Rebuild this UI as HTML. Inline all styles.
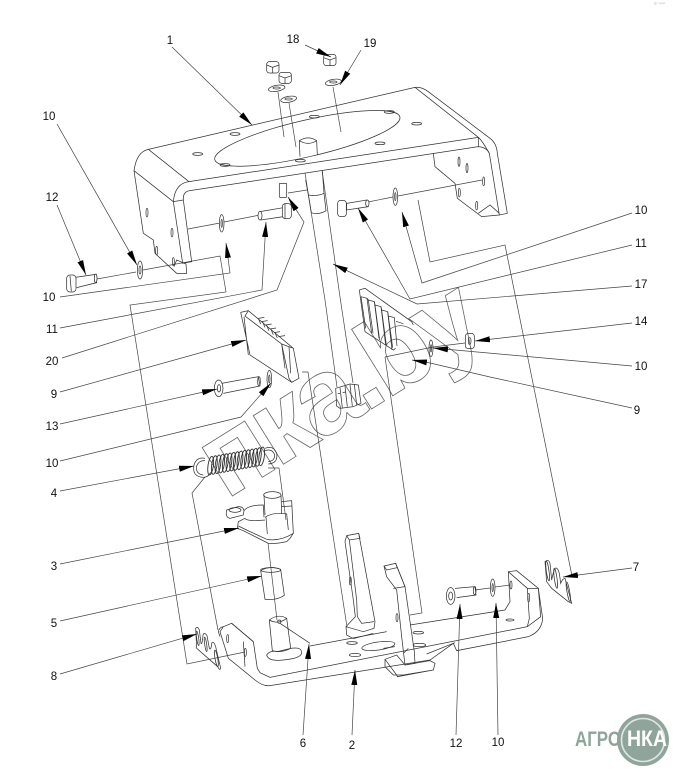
<!DOCTYPE html>
<html><head><meta charset="utf-8"><style>
html,body{margin:0;padding:0;background:#fff}
svg{display:block}
text{font-family:"Liberation Sans",sans-serif}
.l{font-size:11.5px;fill:#111;text-anchor:middle}
.z path,.z ellipse,.z rect,.z polyline,.z line{fill:none;stroke:#333;stroke-width:2.2}
.f path,.f ellipse,.f rect{fill:#fff}
.a polyline{fill:none;stroke:#444;stroke-width:.7;marker-end:url(#m)}
.x path{fill:none;stroke:#444;stroke-width:.7}
</style></head><body>
<svg xmlns="http://www.w3.org/2000/svg" width="690" height="783" viewBox="0 0 690 783">
<defs><marker id="m" markerUnits="userSpaceOnUse" markerWidth="17" markerHeight="8" refX="15" refY="3.5" orient="auto"><path d="M0,0.5 L15,3.5 L0,6.5 Z" fill="#000"/></marker></defs>

<!-- watermark -->
<text x="226" y="500" transform="rotate(-32 226 500)" font-size="108" font-weight="bold" letter-spacing="-5" fill="none" stroke="#666" stroke-width=".8">пка.by</text>

<!-- axis lines -->
<g class="x">
<path d="M305,173L325,300L337,387M322,170L340,297L353,383"/>
<path d="M143,270L220,256L226,292L130,305L187,664L245,652"/>
<path d="M97,279L136,272"/>
<path d="M418,200L430,262L505,245L572,576"/>
<path d="M302,372L308,372L347,627"/>
<path d="M385,357L433,347L465,343M385,357L422,613L410,615"/>
<path d="M205,477L192,493L218,630M268,468L279,468L286,520M268,543L277,620"/>
<path d="M188,229L220,223M224,222L260,215M288,193L307,190M368,202L393,197M398,196L482,180"/>
<path d="M278,92L284,137M289,103L296,147M333,87L341,132"/>
<path d="M475,590L490,588M495,587L510,585"/>
</g>

<!-- top bracket -->
<g class="z" transform="translate(120,40) scale(.33333)">
<path d="M85,328L885,142Q905,140 925,155L1110,295Q1130,310 1132,340L1162,520L1138,525L1108,340Q1100,322 1075,320L210,452Q188,455 190,480L215,665L188,670L160,485Q165,430 207,425L1075,292"/>
<path d="M85,328Q50,335 42,392L70,580L100,600L105,640L170,700L200,700L198,672L170,660L162,680"/>
<path d="M85,328L207,425M42,392L160,485M160,485L190,480M885,142L1075,292Q1085,300 1108,340M1075,292L1075,320"/>
<path d="M940,340L945,380L1005,430L1012,475L1085,530L1138,525M1075,520L1110,495L1138,520"/>
<ellipse cx="562" cy="295" rx="285" ry="55" transform="rotate(-13 562 295)"/>
<ellipse cx="233" cy="342" rx="15" ry="4"/><ellipse cx="345" cy="282" rx="15" ry="4"/><ellipse cx="583" cy="230" rx="15" ry="4"/><ellipse cx="808" cy="216" rx="15" ry="4"/><ellipse cx="890" cy="251" rx="15" ry="4"/><ellipse cx="780" cy="310" rx="15" ry="4"/><ellipse cx="541" cy="362" rx="15" ry="4"/><ellipse cx="315" cy="375" rx="15" ry="4"/>
<ellipse cx="81" cy="518" rx="3" ry="13"/><ellipse cx="156" cy="578" rx="3" ry="13"/><ellipse cx="110" cy="632" rx="3" ry="13"/><ellipse cx="1017" cy="365" rx="3" ry="14"/><ellipse cx="1041" cy="384" rx="3" ry="14"/><ellipse cx="1091" cy="424" rx="3" ry="13"/><ellipse cx="1018" cy="458" rx="3" ry="13"/><ellipse cx="1070" cy="497" rx="3" ry="13"/><ellipse cx="160" cy="665" rx="3" ry="12"/>
<path d="M540,350L538,302Q565,285 590,302L592,345M538,302Q565,318 590,302"/>
<!-- nuts and washers -->
<g class="f"><rect x="440" y="65" width="37" height="34" rx="8"/><rect x="477" y="97" width="37" height="33" rx="8"/><rect x="611" y="43" width="37" height="34" rx="8"/>
<ellipse cx="470" cy="145" rx="25" ry="9" transform="rotate(-10 470 145)"/><ellipse cx="506" cy="178" rx="24" ry="9" transform="rotate(-10 506 178)"/><ellipse cx="640" cy="127" rx="24" ry="9" transform="rotate(-10 640 127)"/></g>
<ellipse cx="470" cy="144" rx="11" ry="3"/><ellipse cx="506" cy="177" rx="11" ry="3"/><ellipse cx="640" cy="126" rx="11" ry="3"/>
<path d="M440,75L458,82L477,75M458,82L458,99M477,107L495,114L514,107M495,114L495,130M611,53L630,60L648,53M630,60L630,77"/>
<!-- tab, bolts, washers -->
<g class="f"><rect x="478" y="430" width="22" height="42" rx="2"/>
<path d="M420,515L490,503L490,530L423,540Z"/><ellipse cx="420" cy="527" rx="6" ry="13"/><rect x="487" y="491" width="27" height="45" rx="9"/>
<path d="M680,490L740,480L745,500L680,510Z"/><ellipse cx="742" cy="490" rx="5" ry="10"/><rect x="653" y="481" width="26" height="49" rx="9"/>
<ellipse cx="305" cy="550" rx="7" ry="26"/><ellipse cx="826" cy="470" rx="7" ry="26"/><ellipse cx="60" cy="690" rx="8" ry="27"/></g>
<ellipse cx="305" cy="550" rx="2" ry="12"/><ellipse cx="826" cy="470" rx="2" ry="12"/><ellipse cx="60" cy="690" rx="3" ry="12"/>
<path d="M495,491L495,536"/>
<!-- collar -->
<path d="M557,420L565,465Q590,470 612,460L607,392M565,465L574,518Q595,526 618,512L612,460"/>
</g>

<!-- bolt 12 -->
<g class="z f" transform="translate(50,240) scale(.33333)">
<path d="M75,112L138,103L140,128L80,143"/><ellipse cx="137" cy="115" rx="4" ry="13"/>
<rect x="50" y="105" width="28" height="51" rx="10"/><path d="M60,108L64,154"/>
</g>

<!-- middle parts -->
<g class="z" transform="translate(170,280) scale(.33333)">
<path d="M212,97L235,92L370,205L387,295L365,307L240,225L212,97M222,110L235,225M235,92L225,108L335,192L357,295L365,307M335,192L370,205"/>
<path d="M335,192L345,265M357,200L362,280"/>
<path d="M265,115L283,112M275,125L293,122M287,135L305,132M300,147L318,144M312,158L330,155M325,170L345,167M265,115L272,132M278,126L285,142M290,136L297,152M303,148L310,164M315,158L322,174"/>
<!-- gear -->
<path d="M497,325L540,312L565,315L573,370L550,380L510,385L500,378Z"/>
<path d="M510,323L517,383M525,318L532,380M540,314L547,378M553,313L560,375M503,340L510,340M518,338L526,336"/>
<!-- bolt 13 -->
<path d="M155,310L265,290L270,318L160,340"/><ellipse cx="267" cy="304" rx="4" ry="14"/><ellipse cx="146" cy="325" rx="13" ry="25"/><ellipse cx="147" cy="325" rx="5" ry="11"/>
<ellipse cx="298" cy="297" rx="7" ry="26"/><ellipse cx="298" cy="297" rx="2" ry="12"/>
</g>

<!-- right comb plate -->
<g class="z" transform="translate(350,280) scale(.33333)">
<path d="M28,30L45,25L185,125L190,135M28,30L45,155L130,210L137,205"/>
<path d="M33,50l18,5l14,105M33,50l14,95M55,60l18,5l14,110M55,60l14,100M75,75l18,5l14,115M75,75l14,105M95,90l18,5l13,115M95,90l14,105M115,108l18,5l8,85M115,108l13,95M138,124l22,7"/>
<path d="M51,55l4,5M73,65l2,10M93,80l2,10M113,95l2,13"/>
<ellipse cx="243" cy="205" rx="6" ry="25"/><ellipse cx="243" cy="205" rx="2" ry="11"/>
<rect x="346" y="160" width="27" height="46" rx="9"/><ellipse cx="359" cy="183" rx="4" ry="10"/>
</g>

<!-- spring and cam -->
<g class="z" transform="translate(180,440) scale(.33333)">
<g style="stroke-width:2.8">
<ellipse cx="92" cy="77" rx="8" ry="28" transform="rotate(8 92 77)" style="stroke-width:2.8"/><ellipse cx="103" cy="75" rx="8" ry="28" transform="rotate(8 103 75)" style="stroke-width:2.8"/><ellipse cx="114" cy="73" rx="8" ry="28" transform="rotate(8 114 73)" style="stroke-width:2.8"/><ellipse cx="125" cy="71" rx="8" ry="28" transform="rotate(8 125 71)" style="stroke-width:2.8"/><ellipse cx="136" cy="69" rx="8" ry="28" transform="rotate(8 136 69)" style="stroke-width:2.8"/><ellipse cx="147" cy="67" rx="8" ry="28" transform="rotate(8 147 67)" style="stroke-width:2.8"/><ellipse cx="158" cy="65" rx="8" ry="28" transform="rotate(8 158 65)" style="stroke-width:2.8"/><ellipse cx="169" cy="63" rx="8" ry="28" transform="rotate(8 169 63)" style="stroke-width:2.8"/><ellipse cx="180" cy="61" rx="8" ry="28" transform="rotate(8 180 61)" style="stroke-width:2.8"/><ellipse cx="191" cy="59" rx="8" ry="28" transform="rotate(8 191 59)" style="stroke-width:2.8"/><ellipse cx="202" cy="57" rx="8" ry="28" transform="rotate(8 202 57)" style="stroke-width:2.8"/><ellipse cx="213" cy="55" rx="8" ry="28" transform="rotate(8 213 55)" style="stroke-width:2.8"/><ellipse cx="224" cy="53" rx="8" ry="28" transform="rotate(8 224 53)" style="stroke-width:2.8"/><ellipse cx="235" cy="51" rx="8" ry="28" transform="rotate(8 235 51)" style="stroke-width:2.8"/><ellipse cx="245" cy="49" rx="8" ry="28" transform="rotate(8 245 49)" style="stroke-width:2.8"/>
</g>
<path d="M75,55Q50,50 42,75Q35,110 70,112Q85,112 92,97M75,62Q57,60 50,78Q46,102 70,105"/>
<path d="M255,25Q280,15 290,40Q295,70 265,72M255,32Q275,25 283,42Q287,62 265,65"/>
<!-- cam -->
<path d="M140,210L175,200Q190,200 192,212L190,225L150,235Q135,232 140,210Z"/><ellipse cx="165" cy="210" rx="18" ry="7"/>
<path d="M192,212Q205,195 250,195L252,232M195,235Q200,245 255,240"/>
<path d="M252,165L255,225M303,165L305,222"/><ellipse cx="277" cy="165" rx="26" ry="10"/>
<path d="M255,232Q280,215 320,222L325,270M258,232L262,282"/>
<path d="M305,185L335,182L340,280L330,295L320,305Q290,312 265,310L190,272L172,265L175,245L195,235"/>
<path d="M175,258L200,270L260,298Q300,305 340,280M305,200L335,198"/>
</g>

<!-- lower parts -->
<g class="z" transform="translate(170,520) scale(.33333)">
<path d="M160,320L185,310L250,365L262,445L270,458L300,472L1072,320L1112,290L1105,205L1040,152L1015,155L1020,245L1005,270L720,315"/>
<path d="M160,320L150,335L175,415L255,480Q280,500 300,497L780,420L850,370L860,392L1075,350Q1115,335 1118,295L1105,205M1015,155L1072,205L1105,205M1072,205L1078,295L1072,320"/>
<ellipse cx="173" cy="356" rx="3" ry="12"/><ellipse cx="226" cy="397" rx="3" ry="12"/><ellipse cx="1076" cy="233" rx="3" ry="13"/><ellipse cx="1023" cy="195" rx="3" ry="12"/><ellipse cx="1020" cy="300" rx="12" ry="3"/>
<path d="M220,365L225,440M250,365L185,310"/>
<path d="M160,320Q148,322 145,335L150,350"/>
<!-- column 1 -->
<path d="M530,47L566,40L615,305L612,325L580,335L528,320L556,290L550,240L525,65Z"/>
<path d="M530,47L538,60L570,55L566,40M538,60L560,240L562,290L575,310L612,305"/>
<ellipse cx="541" cy="183" rx="3" ry="12"/>
<path d="M528,320L530,345L550,356L610,340"/>
<!-- column 2 -->
<path class="f" d="M642,138L677,130L705,200L733,395L735,430L705,435L695,350L680,210L650,170Z"/>
<path d="M642,138L650,150L682,143L677,130M682,143L705,200M670,205L705,200M715,385L700,400"/>
<ellipse cx="681" cy="293" rx="3" ry="12"/>
<path d="M645,418L680,405L705,435L780,422L795,430L790,450L700,465L670,465L645,440ZM645,418L680,465M680,465L682,470L790,450"/>
<!-- holes -->
<ellipse cx="546" cy="369" rx="16" ry="4"/><ellipse cx="555" cy="405" rx="17" ry="5"/><ellipse cx="745" cy="338" rx="16" ry="4"/><ellipse cx="748" cy="375" rx="19" ry="5"/>
<ellipse cx="625" cy="378" rx="50" ry="12" transform="rotate(-8 625 378)"/>
<path d="M640,385L675,380M770,402L855,368M420,378L650,335"/>
<!-- pin and base -->
<path d="M298,300Q325,280 350,295L362,385Q335,400 307,392Z"/>
<path d="M298,300Q325,315 350,295"/>
<ellipse cx="328" cy="305" rx="5" ry="5"/>
<path d="M290,405Q300,390 322,395L362,385Q395,380 395,398Q395,415 340,420Q295,425 290,405Z"/>
<path d="M330,310L420,370"/>
<!-- sleeve 5 -->
<path d="M272,152Q300,135 332,148L343,226Q320,242 285,238Z"/><ellipse cx="302" cy="150" rx="30" ry="7"/>
<!-- bolt 12 lower, washer -->
<path d="M855,205L915,200L918,225L860,233"/><ellipse cx="914" cy="212" rx="4" ry="12"/><ellipse cx="842" cy="228" rx="13" ry="25"/><ellipse cx="842" cy="228" rx="6" ry="12"/>
<ellipse cx="968" cy="203" rx="7" ry="26"/><ellipse cx="968" cy="203" rx="2" ry="12"/>
</g>

<!-- gasket left -->
<g class="z" transform="translate(175,615) scale(.33333)">
<path d="M62,40Q68,32 73,45L78,85Q82,90 84,60Q88,50 96,62L103,100Q108,108 110,85Q115,75 122,95L137,160Q135,168 128,155L65,100Z"/>
<ellipse cx="68" cy="70" rx="3" ry="22" transform="rotate(-8 68 70)"/><ellipse cx="92" cy="88" rx="3" ry="22" transform="rotate(-8 92 88)"/><ellipse cx="124" cy="130" rx="4" ry="25" transform="rotate(-10 124 130)"/>
</g>
<!-- gasket right -->
<g class="z" transform="translate(500,550) scale(.33333)">
<path d="M135,35Q145,25 150,40L155,90Q160,65 165,55Q172,50 178,70L182,100Q188,85 195,85L215,160L205,155L155,115L140,95Z"/>
<ellipse cx="143" cy="63" rx="4" ry="30" transform="rotate(-8 143 63)"/><ellipse cx="167" cy="85" rx="4" ry="30" transform="rotate(-8 167 85)"/><ellipse cx="205" cy="125" rx="4" ry="30" transform="rotate(-10 205 125)"/>
</g>

<!-- leaders -->
<g class="a">
<polyline points="172,47 252,125"/>
<polyline points="305,45 331,57"/>
<polyline points="361,50 340,85"/>
<polyline points="57,124 137,265"/>
<polyline points="57,205 86,275"/>
<polyline points="60,297 230,273 226,243"/>
<polyline points="60,328 262,290 266,222"/>
<polyline points="62,358 277,290 304,222 288,197"/>
<polyline points="60,392 246,340"/>
<polyline points="60,424 217,389"/>
<polyline points="60,461 241,417 271,383"/>
<polyline points="60,491 194,466"/>
<polyline points="60,564 239,528"/>
<polyline points="60,621 262,576"/>
<polyline points="60,674 197,634"/>
<polyline points="303,735 309,644"/>
<polyline points="352,735 355,670"/>
<polyline points="456,735 460,604"/>
<polyline points="498,735 496,603"/>
<polyline points="632,568 563,577"/>
<polyline points="632,213 422,283 402,212"/>
<polyline points="632,245 410,299 358,208"/>
<polyline points="632,286 417,304 333,264"/>
<polyline points="632,323 475,341"/>
<polyline points="632,366 433,348"/>
<polyline points="632,408 490,377 430,363 412,360"/>
</g>

<!-- labels -->
<g class="l">
<text x="170" y="44">1</text><text x="293" y="43">18</text><text x="370" y="47">19</text>
<text x="49" y="120">10</text><text x="52" y="201">12</text><text x="49" y="301">10</text><text x="52" y="333">11</text><text x="52" y="365">20</text><text x="54" y="398">9</text><text x="52" y="430">13</text><text x="52" y="467">10</text><text x="54" y="497">4</text><text x="54" y="570">3</text><text x="54" y="627">5</text><text x="54" y="680">8</text>
<text x="303" y="747">6</text><text x="352" y="749">2</text><text x="456" y="747">12</text><text x="498" y="746">10</text>
<text x="636" y="571">7</text><text x="641" y="214">10</text><text x="641" y="247">11</text><text x="641" y="288">17</text><text x="641" y="325">14</text><text x="641" y="370">10</text><text x="637" y="414">9</text>
</g>
<text x="654" y="5" font-size="4" fill="#aaa">©° ᵖʳᵒᵒ</text>

<!-- logo -->
<circle cx="643" cy="740" r="26" fill="#8fa59b"/>
<circle cx="643" cy="740" r="21.5" fill="none" stroke="#dfe6e2" stroke-width="1.6"/>
<text x="575" y="746" font-size="21" font-weight="bold" fill="#8fa59b" textLength="46" lengthAdjust="spacingAndGlyphs">АГРО</text>
<text x="627" y="746" font-size="22" font-weight="bold" fill="#fff" textLength="40" lengthAdjust="spacingAndGlyphs">НКА</text>
</svg>
</body></html>
